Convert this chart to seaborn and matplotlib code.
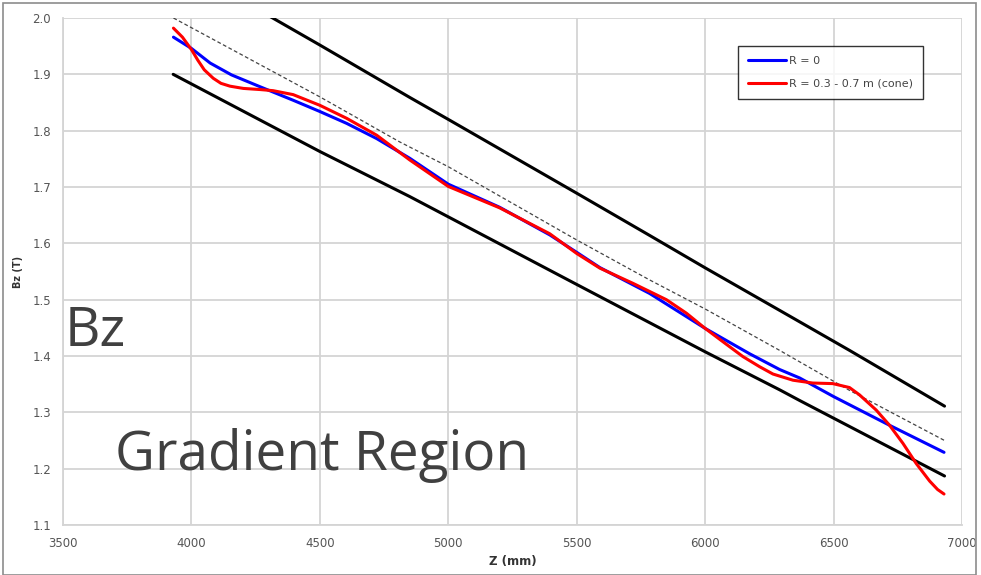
import matplotlib
matplotlib.use("Agg")
import matplotlib.pyplot as plt
import seaborn as sns
import pandas as pd
from matplotlib.patches import Rectangle

# ---- data ----
blue_z = [3930, 4000, 4073, 4156, 4267, 4396, 4500, 4604, 4721, 4850, 5000, 5200, 5395,
          5500, 5590, 5784, 6000, 6173, 6290, 6368, 6500, 6718, 6930]
blue_b = [1.966, 1.946, 1.920, 1.899, 1.878, 1.854, 1.834, 1.813, 1.786, 1.751, 1.705, 1.664,
          1.615, 1.584, 1.557, 1.511, 1.449, 1.404, 1.376, 1.361, 1.328, 1.277, 1.229]

red_z = [3930, 3965, 4000, 4025, 4050, 4085, 4115, 4150, 4202, 4267, 4318, 4396, 4500, 4604,
         4721, 4850, 5000, 5200, 5395, 5500, 5590, 5719, 5849, 5927, 6000, 6082, 6147, 6212,
         6264, 6342, 6419, 6497, 6562, 6601, 6666, 6718, 6770, 6822, 6874, 6905, 6930]
red_b = [1.982, 1.966, 1.944, 1.925, 1.908, 1.893, 1.884, 1.879, 1.875, 1.873, 1.871, 1.864,
         1.845, 1.822, 1.792, 1.748, 1.701, 1.663, 1.617, 1.582, 1.556, 1.529, 1.500, 1.476,
         1.449, 1.421, 1.399, 1.381, 1.368, 1.357, 1.352, 1.351, 1.344, 1.331, 1.304, 1.277,
         1.245, 1.209, 1.178, 1.163, 1.155]

upper_z = [3930, 4500, 4850, 5000, 5500, 5784, 6002, 6290, 6562, 6932]
upper_b = [2.101, 1.952, 1.859, 1.820, 1.689, 1.614, 1.556, 1.481, 1.410, 1.311]

lower_z = [3929, 4500, 4850, 5000, 5500, 6002, 6290, 6368, 6932]
lower_b = [1.900, 1.763, 1.683, 1.647, 1.527, 1.407, 1.340, 1.321, 1.187]

dash_z = [3930, 4500, 4811, 5000, 5500, 5784, 6002, 6290, 6562, 6932]
dash_b = [2.000, 1.860, 1.780, 1.736, 1.606, 1.535, 1.483, 1.410, 1.339, 1.250]

x_ticks = [3500, 4000, 4500, 5000, 5500, 6000, 6500, 7000]
y_ticks = [1.1, 1.2, 1.3, 1.4, 1.5, 1.6, 1.7, 1.8, 1.9, 2.0]

series_labels = ["R = 0", "R = 0.3 - 0.7 m (cone)"]

# ---- figure ----
sns.set_style("white")
plt.rcParams["font.family"] = ["DejaVu Sans"]

W, H = 981, 575
fig = plt.figure(figsize=(W / 100, H / 100), dpi=100)
ax = fig.add_axes([63 / W, 1 - 525 / H, (962 - 63) / W, (525 - 18) / H])

grid_c = "#d4d4d4"
ax.set_xlim(3500, 7000)
ax.set_ylim(1.1, 2.0)
ax.set_xticks(x_ticks)
ax.set_yticks(y_ticks)
ax.set_yticklabels([f"{v:.1f}" for v in y_ticks])
ax.grid(True, color=grid_c, linewidth=1.3)
for s in ["top", "right"]:
    ax.spines[s].set_visible(False)
for s in ["left", "bottom"]:
    ax.spines[s].set_color(grid_c)
    ax.spines[s].set_linewidth(1.3)
ax.tick_params(axis="both", colors=grid_c, length=5, width=1.3, labelcolor="#555555",
               labelsize=8.5)

dfs = {
    "upper": pd.DataFrame({"Z": upper_z, "B": upper_b}),
    "lower": pd.DataFrame({"Z": lower_z, "B": lower_b}),
    "dash": pd.DataFrame({"Z": dash_z, "B": dash_b}),
    "blue": pd.DataFrame({"Z": blue_z, "B": blue_b}),
    "red": pd.DataFrame({"Z": red_z, "B": red_b}),
}

sns.lineplot(data=dfs["upper"], x="Z", y="B", ax=ax, color="black", linewidth=2.2, sort=False)
sns.lineplot(data=dfs["lower"], x="Z", y="B", ax=ax, color="black", linewidth=2.2, sort=False)
sns.lineplot(data=dfs["dash"], x="Z", y="B", ax=ax, color="#444444", linewidth=0.9,
             linestyle=(0, (3, 2)), sort=False)
sns.lineplot(data=dfs["blue"], x="Z", y="B", ax=ax, color="#0000ff", linewidth=2.2,
             sort=False, label=series_labels[0])
sns.lineplot(data=dfs["red"], x="Z", y="B", ax=ax, color="#ff0000", linewidth=2.2,
             sort=False, label=series_labels[1])

ax.set_xlabel("Z (mm)", fontsize=8.5, fontweight="bold", color="#333333", labelpad=4)
ax.set_ylabel("Bz (T)", fontsize=7, fontweight="bold", color="#333333", labelpad=7)

leg = ax.legend(loc="upper left", bbox_to_anchor=((738 - 63) / (962 - 63), 1 - (46 - 18) / (525 - 18)),
                fontsize=8, frameon=True, fancybox=False, handlelength=3.4,
                handletextpad=0.25, borderpad=0.9, labelspacing=1.15, borderaxespad=0)
leg.get_frame().set_edgecolor("black")
leg.get_frame().set_linewidth(1.0)
for t in leg.get_texts():
    t.set_color("#444444")

big = dict(fontsize=39.5, color="#404040", family=["Open Sans", "DejaVu Sans"])
fig.text(65 / W, 1 - 346 / H, "Bz", **big)
fig.text(115 / W, 1 - 470 / H, "Gradient Region", **big)

fig.patches.append(Rectangle((3 / W, 0), 1 - 8 / W, 1 - 3 / H, transform=fig.transFigure,
                             fill=False, edgecolor="#8c8c8c", linewidth=1.2))

fig.savefig("out.png", dpi=100)
